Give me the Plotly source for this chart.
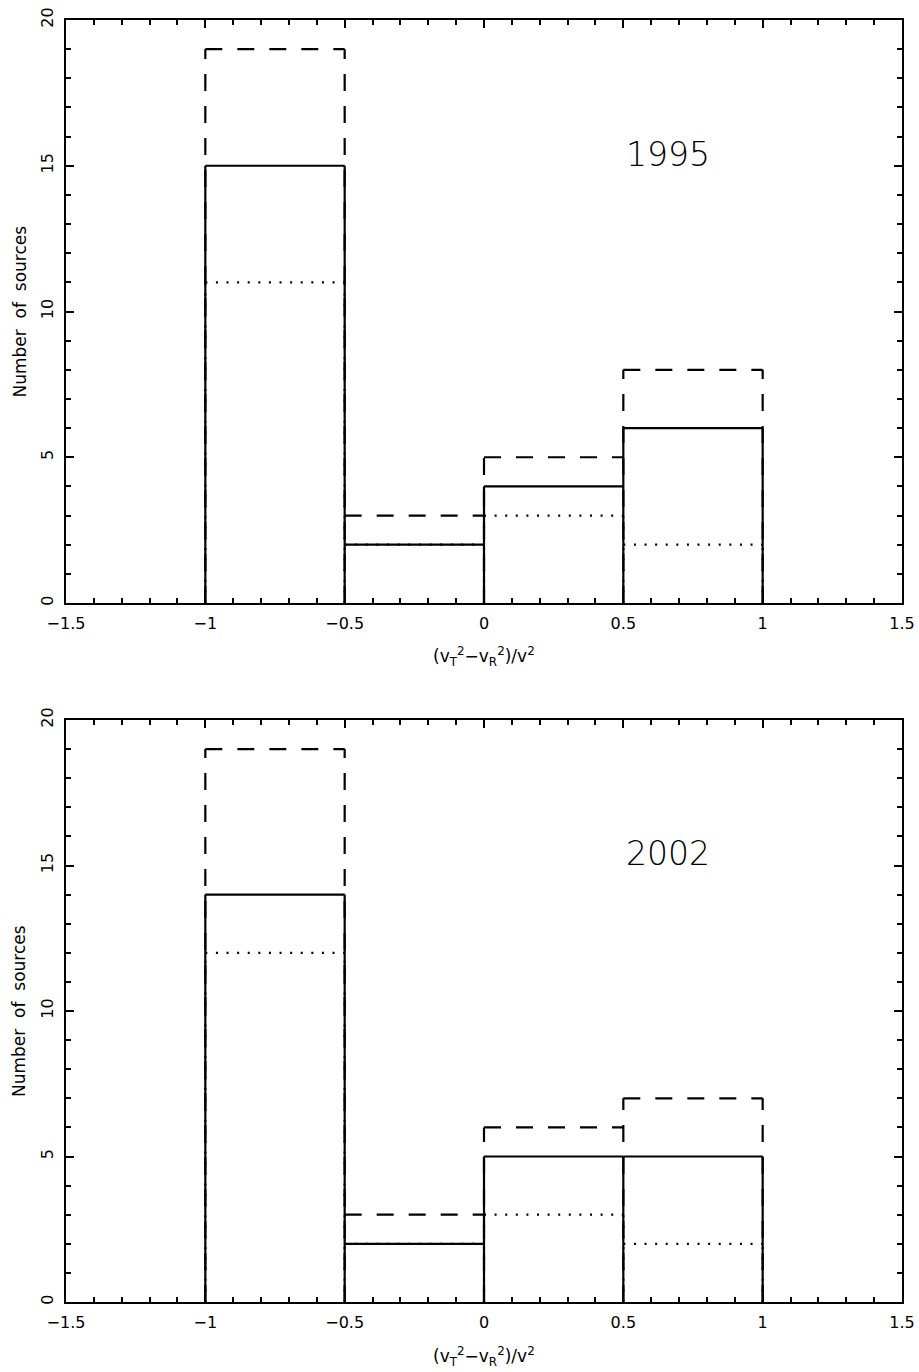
import plotly.graph_objects as go

# Bin edges of (vT^2 - vR^2)/v^2
bin_edges = [-1.0, -0.5, 0.0, 0.5, 1.0]

# Number of sources per bin, epoch 1995
counts_1995_dashed = [19, 3, 5, 8]
counts_1995_solid = [15, 2, 4, 6]
counts_1995_dotted = [11, 2, 3, 2]

# Number of sources per bin, epoch 2002
counts_2002_dashed = [19, 3, 6, 7]
counts_2002_solid = [14, 2, 5, 5]
counts_2002_dotted = [12, 2, 3, 2]

x_tick_values = [-1.5, -1.0, -0.5, 0.0, 0.5, 1.0, 1.5]
y_tick_values = [0, 5, 10, 15, 20]
panel_labels = ["1995", "2002"]

FONT = "DejaVu Sans"
W, H = 919, 1372

# panel frames in pixels: (top, bottom)
panel_px = [(20, 603), (720, 1302)]
left_px, right_px = 66, 902


def outline(edges, counts):
    """Bar outlines: one top per bin, one vertical per edge from 0 to the taller neighbour."""
    xs, ys = [], []
    n = len(counts)
    for i in range(n + 1):
        left = counts[i - 1] if i > 0 else 0
        right = counts[i] if i < n else 0
        xs += [edges[i], edges[i], None]
        ys += [0, max(left, right), None]
    for i in range(n):
        xs += [edges[i], edges[i + 1], None]
        ys += [counts[i], counts[i], None]
    return xs, ys


fig = go.Figure()

series = [
    (counts_1995_dashed, counts_1995_dotted, counts_1995_solid),
    (counts_2002_dashed, counts_2002_dotted, counts_2002_solid),
]

for k, (dashed, dotted, solid) in enumerate(series):
    axn = "" if k == 0 else str(k + 1)
    for counts, dash in ((dashed, "17px,15px"), (dotted, "2px,8.6px"), (solid, "solid")):
        xs, ys = outline(bin_edges, counts)
        fig.add_trace(go.Scatter(
            x=xs, y=ys, mode="lines", xaxis="x" + axn, yaxis="y" + axn,
            line=dict(color="black", width=2.2, dash=dash),
            hoverinfo="skip", showlegend=False, connectgaps=False,
        ))

axis_common = dict(
    showline=True, linecolor="black", linewidth=2, mirror="allticks",
    ticks="inside", ticklen=8, tickwidth=1.5, tickcolor="black",
    showgrid=False, zeroline=False, automargin=False,
    tickfont=dict(family=FONT, size=16, color="black"),
)

layout = dict(
    template="none",
    width=W, height=H,
    margin=dict(l=0, r=0, t=0, b=0, pad=0, autoexpand=False),
    paper_bgcolor="white", plot_bgcolor="white",
    showlegend=False,
    annotations=[],
)

for k, (top, bot) in enumerate(panel_px):
    axn = "" if k == 0 else str(k + 1)
    ydom = [1 - bot / H, 1 - top / H]
    layout["xaxis" + axn] = dict(
        axis_common, domain=[left_px / W, right_px / W], range=[-1.5, 1.5],
        tickvals=x_tick_values, ticklabelstandoff=5,
        minor=dict(dtick=0.1, tick0=0, ticks="inside", ticklen=5, tickwidth=1.5, tickcolor="black"),
        anchor="y" + axn,
    )
    layout["yaxis" + axn] = dict(
        axis_common, domain=ydom, range=[0, 20],
        tickvals=y_tick_values, tickangle=-90, ticklabelstandoff=5,
        minor=dict(dtick=1, tick0=0, ticks="inside", ticklen=5, tickwidth=1.5, tickcolor="black"),
        anchor="x" + axn,
    )
    # epoch label
    layout["annotations"].append(dict(
        x=0.66, y=15.4, xref="x" + axn, yref="y" + axn, text=panel_labels[k],
        showarrow=False,
        font=dict(family="DejaVu Sans ExtraLight, DejaVu Sans", size=33, color="black", weight=200),
        xanchor="center", yanchor="middle",
    ))
    # y-axis title
    layout["annotations"].append(dict(
        x=19 / W, y=1 - (top + bot) / 2 / H, xref="paper", yref="paper",
        text="Number\u00a0 of\u00a0 sources", textangle=-90, showarrow=False,
        font=dict(family=FONT, size=17, color="black"),
        xanchor="center", yanchor="middle",
    ))
    # x-axis title
    layout["annotations"].append(dict(
        x=(left_px + right_px) / 2 / W, y=1 - (bot + 54) / H, xref="paper", yref="paper",
        text="(v<sub>T</sub><sup>2</sup>\u2212v<sub>R</sub><sup>2</sup>)/v<sup>2</sup>",
        showarrow=False, font=dict(family=FONT, size=17, color="black"),
        xanchor="center", yanchor="middle",
    ))

fig.update_layout(**layout)
fig.write_html("out.html")
